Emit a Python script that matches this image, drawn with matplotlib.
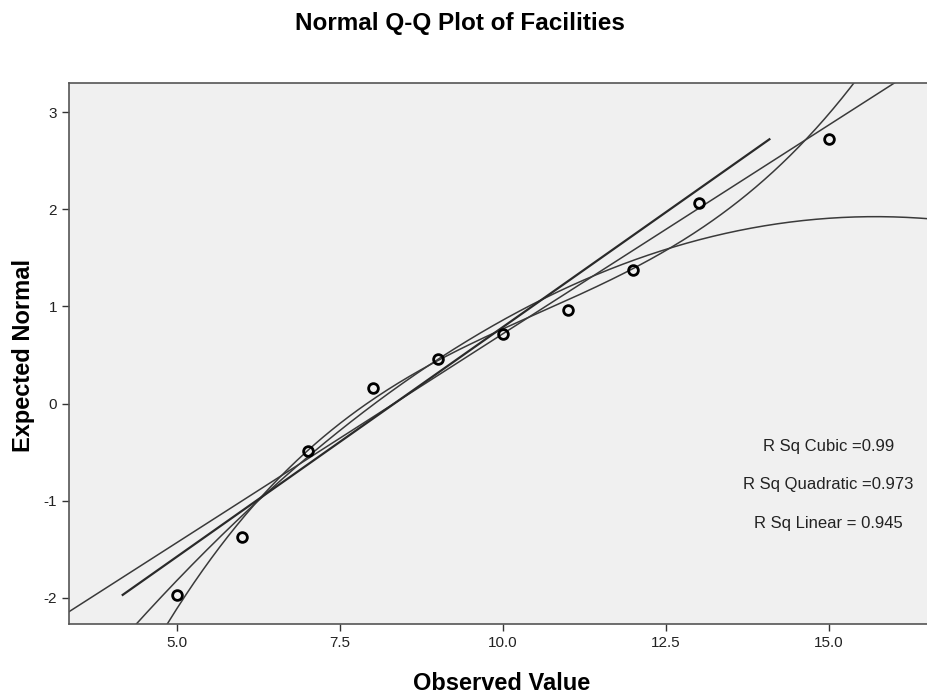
import matplotlib
matplotlib.use("Agg")
import matplotlib.pyplot as plt
import numpy as np

# unique observed values, their case counts and expected normal scores
observed = [5, 6, 7, 8, 9, 10, 11, 12, 13, 15]
counts = [9, 14, 73, 23, 21, 12, 14, 18, 5, 1]
expected = [-1.97, -1.37, -0.49, 0.16, 0.46, 0.72, 0.96, 1.37, 2.06, 2.72]

rsq_labels = ["R Sq Cubic =0.99", "R Sq Quadratic =0.973", "R Sq Linear = 0.945"]
x_ticks = [5.0, 7.5, 10.0, 12.5, 15.0]
y_ticks = [-2, -1, 0, 1, 2, 3]

plt.rcParams['font.family'] = ['Liberation Sans', 'DejaVu Sans']
plt.rcParams['axes.unicode_minus'] = False

x = np.array(observed, dtype=float)
y = np.array(expected)
w = np.array(counts, dtype=float)

fig = plt.figure(figsize=(9.28, 6.97), dpi=100)
ax = fig.add_axes([0.0744, 0.1047, 0.9256, 0.7763])
ax.set_facecolor('#f0f0f0')
xmin, xmax = 3.34, 16.52
ymin, ymax = -2.27, 3.30

# fits on all cases (weighted by count)
grid = np.linspace(xmin, xmax, 400)
for deg in (1, 2, 3):
    coef = np.polyfit(x, y, deg, w=np.sqrt(w))
    ax.plot(grid, np.polyval(coef, grid), color='#3a3a3a', lw=1.1, zorder=2)

# normal reference line
mean = np.average(x, weights=w)
sd = np.sqrt(np.sum(w * (x - mean) ** 2) / (w.sum() - 1))
ref_y = np.array([y.min(), y.max()])
ax.plot(mean + ref_y * sd, ref_y, color='#2a2a2a', lw=1.6, zorder=3)

ax.plot(x, y, 'o', mfc='none', mec='black', mew=2.0, ms=7, zorder=4)

ax.set_xlim(xmin, xmax)
ax.set_ylim(ymin, ymax)
ax.set_xticks(x_ticks)
ax.set_xticklabels(["%.1f" % t for t in x_ticks])
ax.set_yticks(y_ticks)
ax.tick_params(direction='out', length=5, width=1, colors='#333333',
               labelsize=11, labelcolor='#222222')
for s in ('left', 'bottom', 'top'):
    ax.spines[s].set_color('#555555')
    ax.spines[s].set_linewidth(1.2)
ax.spines['right'].set_visible(False)

for lab, yy in zip(rsq_labels, [0.329, 0.257, 0.185]):
    ax.text(0.884, yy, lab, transform=ax.transAxes, ha='center', va='center',
            fontsize=12, color='#222222')

fig.text(0.496, 0.966, "Normal Q-Q Plot of Facilities", ha='center', va='center',
         fontsize=17.5, fontweight='bold')
fig.text(0.541, 0.019, "Observed Value", ha='center', va='center',
         fontsize=17, fontweight='bold')
fig.text(0.025, 0.49, "Expected Normal", ha='center', va='center',
         rotation=90, fontsize=17, fontweight='bold')

fig.savefig("out.png", dpi=100)
